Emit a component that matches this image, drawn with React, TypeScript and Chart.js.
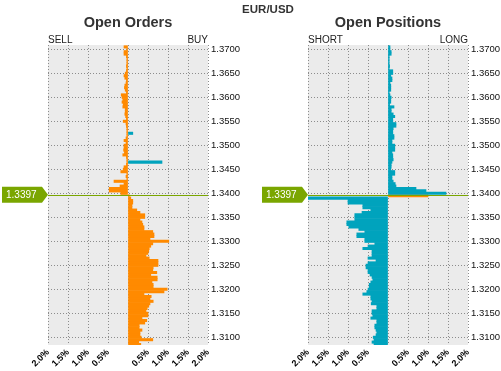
import React, { useEffect, useRef } from 'react';
import { Chart, registerables } from 'chart.js';

Chart.register(...registerables);

// Price buckets above the current price (top to bottom)
const levelsAbove = [
  1.3705, 1.37, 1.3695, 1.369, 1.3685, 1.368, 1.3675, 1.367, 1.3665, 1.366,
  1.3655, 1.365, 1.3645, 1.364, 1.3635, 1.363, 1.3625, 1.362, 1.3615, 1.361,
  1.3605, 1.36, 1.3595, 1.359, 1.3585, 1.358, 1.3575, 1.357, 1.3565, 1.356,
  1.3555, 1.355, 1.3545, 1.354, 1.3535, 1.353, 1.3525, 1.352, 1.3515, 1.351,
  1.3505, 1.35, 1.3495, 1.349, 1.3485, 1.348, 1.3475, 1.347, 1.3465, 1.346,
  1.3455, 1.345, 1.3445, 1.344, 1.3435, 1.343, 1.3425, 1.342, 1.3415, 1.341,
  1.3405, 1.34,
];
// Price buckets below the current price (top to bottom)
const levelsBelow = [
  1.3395, 1.339, 1.3385, 1.338, 1.3375, 1.337, 1.3365, 1.336, 1.3355, 1.335,
  1.3345, 1.334, 1.3335, 1.333, 1.3325, 1.332, 1.3315, 1.331, 1.3305, 1.33,
  1.3295, 1.329, 1.3285, 1.328, 1.3275, 1.327, 1.3265, 1.326, 1.3255, 1.325,
  1.3245, 1.324, 1.3235, 1.323, 1.3225, 1.322, 1.3215, 1.321, 1.3205, 1.32,
  1.3195, 1.319, 1.3185, 1.318, 1.3175, 1.317, 1.3165, 1.316, 1.3155, 1.315,
  1.3145, 1.314, 1.3135, 1.313, 1.3125, 1.312, 1.3115, 1.311, 1.3105, 1.31,
  1.3095, 1.309, 1.3085,
];

// Open orders (% of total), sell side shown to the left
const sellOrders = [
  -0.1, -0.03, -0.1, -0.1, -0.04, -0.03, -0.03, -0.03, -0.04, -0.03,
  -0.04, -0.07, -0.1, -0.08, -0.04, -0.05, -0.08, -0.09, -0.07, -0.04,
  -0.17, -0.15, -0.13, -0.15, -0.12, -0.13, -0.07, -0.07, -0.08, -0.06,
  -0.04, -0.12, -0.05, -0.04, -0.03, -0.03, -0.03, -0.03, -0.05, -0.1,
  -0.05, -0.1, -0.1, -0.11, -0.09, -0.13, -0.04, -0.03, -0.03, -0.04,
  -0.1, -0.12, -0.18, -0.03, -0.05, -0.03, -0.35, -0.1, -0.2, -0.47,
  -0.47, -0.18,
];
const buyOrders = [
  0.03, 0.07, 0.12, 0.12, 0.1, 0.1, 0.22, 0.3, 0.42, 0.42,
  0.3, 0.35, 0.37, 0.4, 0.4, 0.62, 0.65, 0.65, 0.55, 1.02,
  0.62, 0.57, 0.53, 0.52, 0.5, 0.45, 0.53, 0.75, 0.75, 0.75,
  0.63, 0.62, 0.72, 0.57, 0.73, 0.73, 0.6, 0.63, 0.63, 0.98,
  0.9, 0.4, 0.58, 0.55, 0.63, 0.55, 0.52, 0.48, 0.45, 0.5,
  0.5, 0.35, 0.47, 0.42, 0.28, 0.28, 0.35, 0.3, 0.3, 0.33,
  0.62, 0.27, 0.32,
];
const stopOrderLevels = [1.3525, 1.3465];
const stopOrderValues = [0.12, 0.85];

// Open positions (% of total)
const longPositions = [
  0.05, 0.05, 0.08, 0.08, 0.03, 0.03, 0.03, 0.03, 0.04, 0.03,
  0.12, 0.12, 0.07, 0.1, 0.1, 0.05, 0.07, 0.07, 0.07, 0.03,
  0.05, 0.08, 0.07, 0.07, 0.04, 0.15, 0.08, 0.08, 0.13, 0.17,
  0.12, 0.12, 0.2, 0.2, 0.13, 0.12, 0.12, 0.15, 0.15, 0.1,
  0.1, 0.17, 0.17, 0.17, 0.1, 0.12, 0.12, 0.13, 0.1, 0.08,
  0.08, 0.07, 0.17, 0.17, 0.1, 0.1, 0.13, 0.18, 0.2, 0.7,
  0.95, 1.45,
];
const shortPositions = [
  null, -2.1, -1.0, -1.0, -0.63, -0.63, -0.43, -0.65, -0.83, -0.83,
  -0.83, -1.03, -1.03, -0.98, -0.73, -0.58, -0.78, -0.78, -0.58, -0.58,
  -0.33, -0.5, -0.63, -0.4, -0.4, -0.4, -0.5, -0.3, -0.5, -0.55,
  -0.55, -0.5, -0.5, -0.45, -0.4, -0.38, -0.43, -0.47, -0.47, -0.5,
  -0.53, -0.63, -0.43, -0.43, -0.4, -0.42, -0.28, -0.28, -0.4, -0.4,
  -0.38, -0.43, -0.28, -0.28, -0.33, -0.33, -0.3, -0.28, -0.3, -0.37,
  -0.35, -0.4, -0.35,
];
const currentBucketLevels = [1.3395];
const currentBucketValues = [1.0];

const currentPrice = 1.3397;
const priceTicks = [1.31, 1.315, 1.32, 1.325, 1.33, 1.335, 1.34, 1.345, 1.35, 1.355, 1.36, 1.365, 1.37];
const percentTicks = [-2, -1.5, -1, -0.5, 0, 0.5, 1, 1.5, 2];

const ORANGE = '#ff8a00';
const TEAL = '#00a3bd';
const GREEN = '#7aa600';
const FONT = "'Liberation Sans', Arial, Helvetica, sans-serif";
const W = 501;
const H = 371;

function pts(levels: number[], values: (number | null)[]) {
  const out: { x: number; y: number }[] = [];
  levels.forEach((y, i) => {
    const v = values[i];
    if (v !== null && v !== undefined) out.push({ x: v, y });
  });
  return out;
}

function barDs(data: any[], color: string) {
  return {
    type: 'bar',
    data,
    backgroundColor: color,
    borderWidth: 0,
    barPercentage: 1,
    categoryPercentage: 1,
    grouped: false,
    clip: 0,
  } as any;
}

function panelOptions(side: 'left' | 'right') {
  const padLeft = side === 'left' ? 48 : 308;
  const padRight = side === 'left' ? 251 : 0;
  const yWidth = side === 'left' ? 42 : 33;
  const gridOpts = { color: '#8c8c8c', lineWidth: 1, drawTicks: false, offset: false };
  const borderOpts = { display: false, dash: [1, 2] };
  return {
    indexAxis: 'y',
    responsive: false,
    animation: false,
    events: [],
    layout: { padding: { left: padLeft, right: padRight, top: 45, bottom: 0 } },
    plugins: { legend: { display: false }, tooltip: { enabled: false }, title: { display: false } },
    scales: {
      x: {
        type: 'linear',
        min: -2,
        max: 2,
        offset: false,
        afterBuildTicks: (s: any) => {
          s.ticks = percentTicks.map((v) => ({ value: v }));
        },
        afterFit: (s: any) => {
          s.height = 26;
        },
        grid: gridOpts,
        border: borderOpts,
        ticks: {
          autoSkip: false,
          minRotation: 45,
          maxRotation: 45,
          padding: 2,
          color: '#000',
          font: { size: 9, weight: 'bold', family: FONT },
          callback: (v: any) => (Number(v) === 0 ? '' : Math.abs(Number(v)).toFixed(1) + '%'),
        },
      },
      y: {
        type: 'linear',
        position: 'right',
        min: 1.308396,
        max: 1.370896,
        offset: false,
        afterBuildTicks: (s: any) => {
          s.ticks = priceTicks.map((v) => ({ value: v }));
        },
        afterFit: (s: any) => {
          s.width = yWidth;
        },
        grid: gridOpts,
        border: borderOpts,
        ticks: {
          autoSkip: false,
          padding: 3,
          color: '#111',
          font: { size: 9.5, family: FONT },
          callback: (v: any) => Number(v).toFixed(4),
        },
      },
    },
  } as any;
}

function decorPlugin(side: 'left' | 'right') {
  return {
    id: 'decor_' + side,
    beforeDraw(chart: any) {
      const { ctx, chartArea: a } = chart;
      ctx.save();
      ctx.fillStyle = '#ebebeb';
      ctx.fillRect(a.left, a.top, a.right - a.left, a.bottom - a.top);
      ctx.restore();
    },
    afterDatasetsDraw(chart: any) {
      const { ctx, chartArea: a } = chart;
      const py = Math.round(chart.scales.y.getPixelForValue(currentPrice)) + 0.5;
      ctx.save();
      ctx.strokeStyle = GREEN;
      ctx.lineWidth = 1;
      ctx.beginPath();
      ctx.moveTo(a.left, py);
      ctx.lineTo(a.right, py);
      ctx.stroke();
      ctx.restore();
    },
    afterDraw(chart: any) {
      const { ctx, chartArea: a } = chart;
      const py = chart.scales.y.getPixelForValue(currentPrice);
      ctx.save();
      // price marker
      const x0 = a.left - 46;
      const x1 = a.left - 6;
      ctx.fillStyle = GREEN;
      ctx.beginPath();
      ctx.moveTo(x0, py - 8);
      ctx.lineTo(x1, py - 8);
      ctx.lineTo(a.left, py);
      ctx.lineTo(x1, py + 8);
      ctx.lineTo(x0, py + 8);
      ctx.closePath();
      ctx.fill();
      ctx.fillStyle = '#ffffff';
      ctx.font = `10px ${FONT}`;
      ctx.textAlign = 'left';
      ctx.textBaseline = 'middle';
      ctx.fillText(currentPrice.toFixed(4), x0 + 4, py + 0.5);

      const cx = (a.left + a.right) / 2;
      ctx.textBaseline = 'alphabetic';
      ctx.fillStyle = '#333';
      ctx.font = `bold 14.5px ${FONT}`;
      ctx.textAlign = 'center';
      ctx.fillText(side === 'left' ? 'Open Orders' : 'Open Positions', cx, 26.5);
      ctx.fillStyle = '#222';
      ctx.font = `10px ${FONT}`;
      ctx.textAlign = 'left';
      ctx.fillText(side === 'left' ? 'SELL' : 'SHORT', a.left, 42.5);
      ctx.textAlign = 'right';
      ctx.fillText(side === 'left' ? 'BUY' : 'LONG', a.right, 42.5);
      if (side === 'left') {
        ctx.fillStyle = '#333';
        ctx.font = `bold 11.5px ${FONT}`;
        ctx.textAlign = 'center';
        ctx.fillText('EUR/USD', 268, 12.5);
      }
      ctx.restore();
    },
  };
}

export default function App() {
  const leftRef = useRef<HTMLCanvasElement | null>(null);
  const rightRef = useRef<HTMLCanvasElement | null>(null);

  useEffect(() => {
    const left = new Chart(leftRef.current as HTMLCanvasElement, {
      type: 'bar',
      data: {
        datasets: [
          barDs(pts(levelsAbove, sellOrders), ORANGE),
          barDs(pts(levelsBelow, buyOrders), ORANGE),
          barDs(pts(stopOrderLevels, stopOrderValues), TEAL),
        ],
      },
      options: panelOptions('left'),
      plugins: [decorPlugin('left')],
    } as any);
    const right = new Chart(rightRef.current as HTMLCanvasElement, {
      type: 'bar',
      data: {
        datasets: [
          barDs(pts(levelsAbove, longPositions), TEAL),
          barDs(pts(levelsBelow, shortPositions), TEAL),
          barDs(pts(currentBucketLevels, currentBucketValues), ORANGE),
        ],
      },
      options: panelOptions('right'),
      plugins: [decorPlugin('right')],
    } as any);
    return () => {
      left.destroy();
      right.destroy();
    };
  }, []);

  const cs: React.CSSProperties = { position: 'absolute', left: 0, top: 0, width: W, height: H };
  return (
    <div style={{ position: 'fixed', left: 0, top: 0, width: W, height: H, background: '#fff' }}>
      <canvas ref={leftRef} width={W} height={H} style={cs} />
      <canvas ref={rightRef} width={W} height={H} style={cs} />
    </div>
  );
}
